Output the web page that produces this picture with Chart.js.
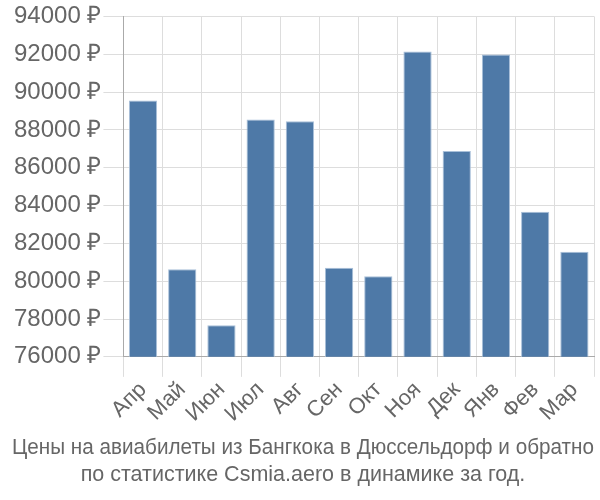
<!DOCTYPE html>
<html lang="ru">
<head>
    <meta charset="UTF-8">
    <title>Цены на авиабилеты</title>
    <style>
        html, body { margin: 0; padding: 0; background: #fff; }
        #wrap { width: 600px; height: 500px; }
    </style>
</head>
<body>
    <div id="wrap"><canvas id="chart"></canvas></div>

    <script src="https://cdn.jsdelivr.net/npm/chart.js@4.4.9/dist/chart.umd.min.js"></script>
    <script>
        const months = ['Апр', 'Май', 'Июн', 'Июл', 'Авг', 'Сен', 'Окт', 'Ноя', 'Дек', 'Янв', 'Фев', 'Мар'];
        const prices = [89550, 80630, 77670, 88550, 88460, 80710, 80260, 92140, 86890, 91980, 83670, 81560];
        const yMin = 76000;
        const yMax = 94000;
        const yStep = 2000;
        const titleLines = [
            'Цены на авиабилеты из Бангкока в Дюссельдорф и обратно',
            'по статистике Csmia.aero в динамике за год.'
        ];

        const font = "'Liberation Sans', Arial, sans-serif";

        new Chart(document.getElementById('chart'), {
            type: 'bar',
            data: {
                labels: months,
                datasets: [{
                    data: prices,
                    backgroundColor: '#4e79a7',
                    borderColor: '#a9c0d9',
                    borderWidth: 1
                }]
            },
            options: {
                responsive: true,
                maintainAspectRatio: false,
                animation: false,
                layout: { padding: { top: 1, right: 6, left: 12, bottom: 0 } },
                plugins: {
                    legend: { display: false },
                    tooltip: { enabled: false },
                    title: {
                        display: true,
                        position: 'bottom',
                        text: titleLines,
                        color: '#666',
                        font: { family: font, size: 21.5, weight: 'normal', lineHeight: 1.23 },
                        padding: { top: 8, bottom: 12 }
                    }
                },
                scales: {
                    x: {
                        grid: { color: '#ddd', lineWidth: 1, tickLength: 20, tickColor: '#ddd' },
                        border: { color: '#aaa' },
                        ticks: {
                            color: '#666',
                            font: { family: font, size: 22 },
                            autoSkip: false,
                            maxRotation: 45,
                            minRotation: 45,
                            padding: 0
                        }
                    },
                    y: {
                        min: yMin,
                        max: yMax,
                        grid: { color: '#ddd', lineWidth: 1, tickLength: 20, tickColor: '#ddd' },
                        border: { color: '#aaa' },
                        ticks: {
                            stepSize: yStep,
                            color: '#666',
                            font: { family: font, size: 24 },
                            padding: 2,
                            callback: v => v + ' ₽'
                        }
                    }
                }
            }
        });
    </script>
</body>
</html>
